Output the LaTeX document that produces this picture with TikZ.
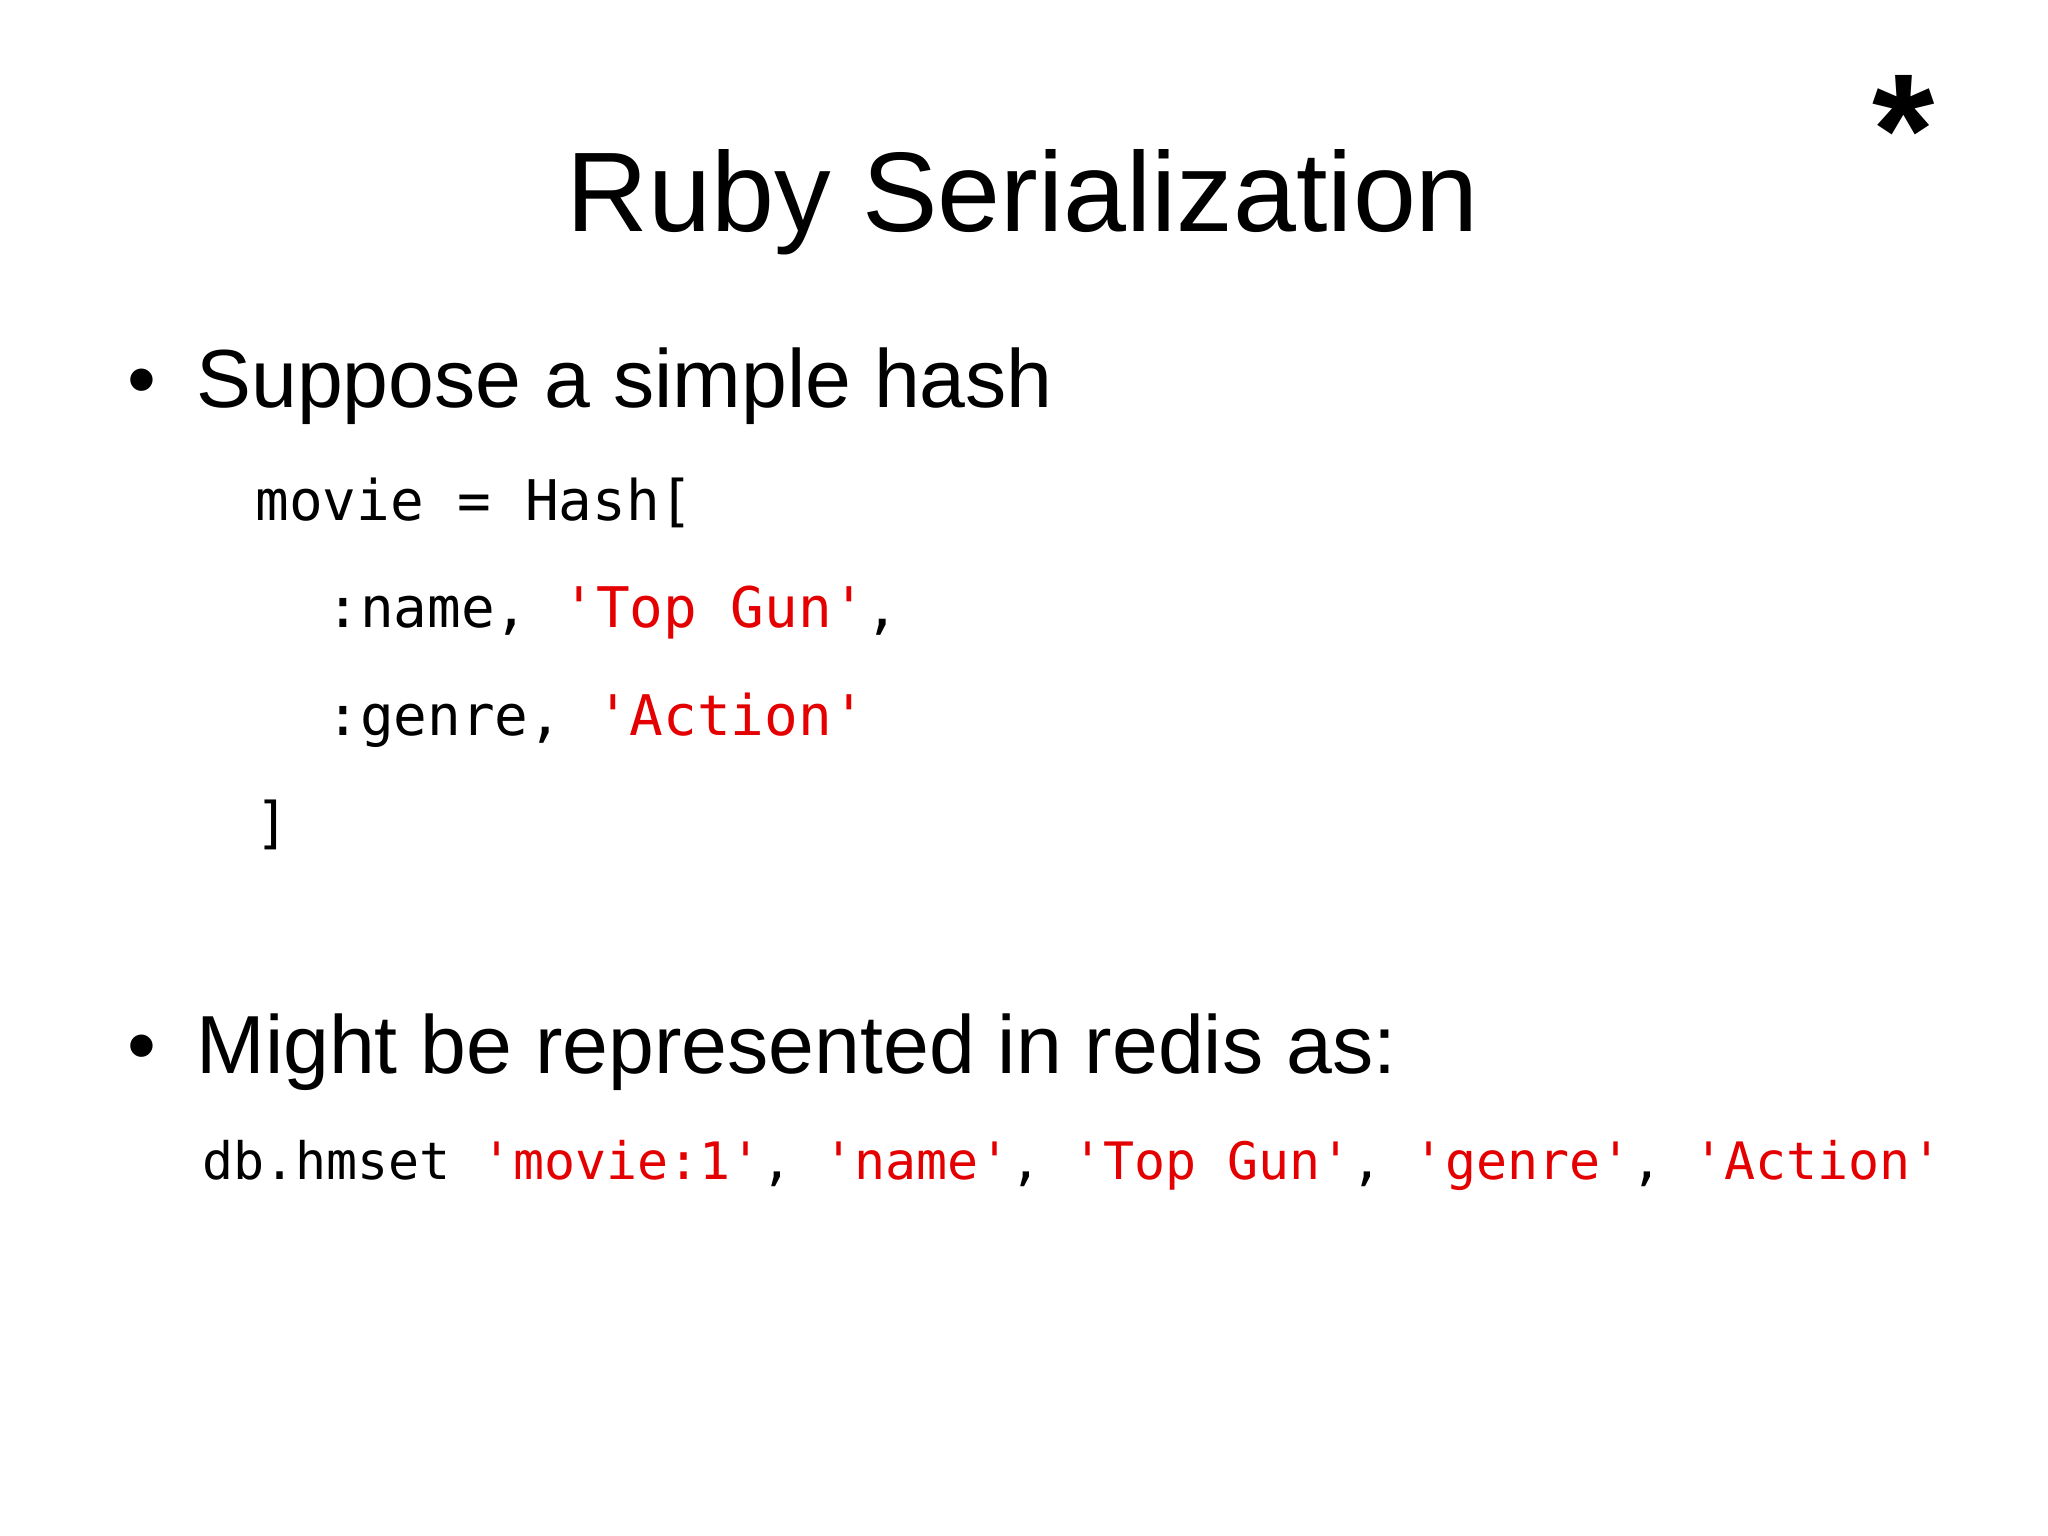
\documentclass[tikz,border=0pt]{standalone}
\usepackage{fontspec}
\setmainfont{Liberation Sans}
\setmonofont{DejaVu Sans Mono}
\definecolor{codered}{RGB}{228,0,0}
\begin{document}
\begin{tikzpicture}[x=0.5pt,y=-0.5pt,
  txt/.style={anchor=base west,inner sep=0pt},
  bul/.style={txt,font=\fontsize{41.2}{50}\selectfont},
  code/.style={txt,font=\fontsize{28}{32}\ttfamily},
  code2/.style={txt,font=\fontsize{25.8}{32}\ttfamily}]
\useasboundingbox (0,0) rectangle (2048,1535);
\node[anchor=base,inner sep=0pt,font=\fontsize{56.6}{70}\selectfont] (title) at (1023,232) {Ruby Serialization};
\node[anchor=center,inner sep=0pt,font=\bfseries\fontsize{80}{80}\selectfont] (star) at (1904,130) {*};
\node[bul] (b1) at (127,407) {•};
\node[bul] (t1) at (196,407) {Suppose a simple hash};
\node[code] (c1) at (255,520) {movie = Hash[};
\node[code] (c2) at (326,627) {:name, \textcolor{codered}{'Top Gun'},};
\node[code] (c3) at (326,735) {:genre, \textcolor{codered}{'Action'}};
\node[code] (c4) at (255,842) {]};
\node[bul] (b2) at (127,1073) {•};
\node[bul] (t2) at (196,1073) {Might be represented in redis as:};
\node[code2] (c5) at (202,1179) {db.hmset \textcolor{codered}{'movie:1'}, \textcolor{codered}{'name'}, \textcolor{codered}{'Top Gun'}, \textcolor{codered}{'genre'}, \textcolor{codered}{'Action'}};
\end{tikzpicture}
\end{document}
